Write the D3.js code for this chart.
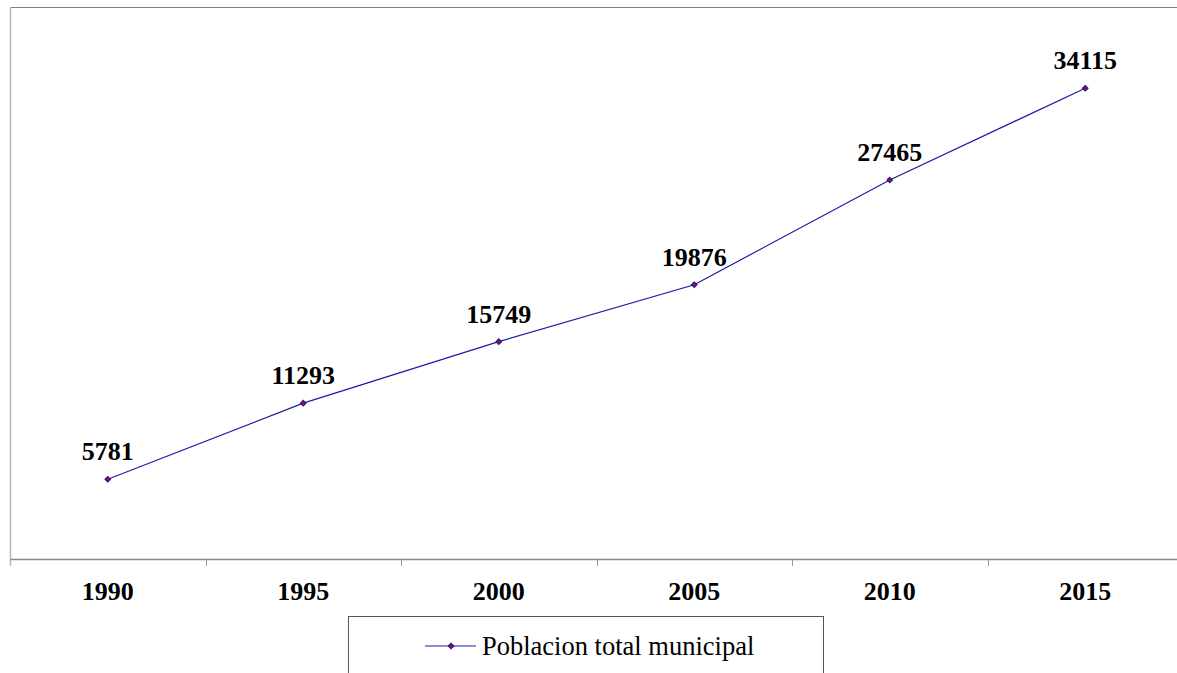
<!DOCTYPE html>
<html><head><meta charset="utf-8">
<script src="https://cdn.jsdelivr.net/npm/d3@7"></script>
<style>html,body{margin:0;padding:0;background:#fff;overflow:hidden}
text{font-family:'Liberation Serif','Times New Roman',serif}</style>
</head><body>
<svg id="c" width="1177" height="673"></svg>
<script>
const years = ["1990","1995","2000","2005","2010","2015"];
const poblacion = [5781, 11293, 15749, 19876, 27465, 34115];
const seriesName = "Poblacion total municipal";

const svg = d3.select("#c");
const mLeft = 10, mTop = 7, mBottom = 559, step = 195.5;
const x = d3.scaleBand().domain(years).range([mLeft, mLeft + step * years.length]).padding(0);
const y = d3.scaleLinear().domain([0, 40000]).range([mBottom, mTop]);
const cx = d => x(d) + x.bandwidth() / 2;

// plot area border (top) and left axis
svg.append("line").attr("x1", mLeft).attr("x2", 1177).attr("y1", mTop + 0.5).attr("y2", mTop + 0.5)
  .attr("stroke", "#808080").attr("stroke-width", 1.2);
svg.append("line").attr("x1", mLeft + 0.5).attr("x2", mLeft + 0.5).attr("y1", mTop).attr("y2", mBottom + 7)
  .attr("stroke", "#b8b8b8").attr("stroke-width", 1.5);

// x axis
const xAxis = d3.axisBottom(x).tickSize(0).tickPadding(0);
const gx = svg.append("g").attr("transform", `translate(0,${mBottom})`).call(xAxis);
gx.select(".domain").attr("stroke", "#888").attr("stroke-width", 1.5);
gx.selectAll(".tick text").attr("dy", null).attr("y", 41)
  .attr("font-family", null).attr("font-weight", "bold")
  .attr("font-size", 26).attr("fill", "#000");
// tick marks at band boundaries
svg.append("g").selectAll("line").data(years.slice(1)).join("line")
  .attr("x1", d => Math.round(x(d)) + 0.5).attr("x2", d => Math.round(x(d)) + 0.5)
  .attr("y1", mBottom).attr("y2", mBottom + 7).attr("stroke", "#999").attr("stroke-width", 1);

// line
const data = years.map((yr, i) => ({ yr, v: poblacion[i] }));
svg.append("path").datum(data)
  .attr("d", d3.line().x(d => cx(d.yr)).y(d => y(d.v)))
  .attr("fill", "none").attr("stroke", "#1c1ca8").attr("stroke-width", 1.2);

// markers (square rotated 45deg)
const diamond = d3.symbol().type(d3.symbolSquare).size(14);
svg.append("g").selectAll("path").data(data).join("path")
  .attr("d", diamond).attr("transform", d => `translate(${cx(d.yr)},${y(d.v)}) rotate(45)`)
  .attr("fill", "#d00020").attr("stroke", "#1c1c90").attr("stroke-width", 1.3);

// labels
svg.append("g").selectAll("text").data(data).join("text")
  .attr("x", d => cx(d.yr)).attr("y", d => y(d.v) - 19)
  .attr("text-anchor", "middle")
  .attr("font-weight", "bold")
  .attr("font-size", 26).attr("fill", "#000").text(d => d.v);

// legend
const lg = svg.append("g");
lg.append("rect").attr("x", 348.5).attr("y", 616.5).attr("width", 475).attr("height", 70)
  .attr("fill", "#fff").attr("stroke", "#555").attr("stroke-width", 1);
lg.append("line").attr("x1", 425).attr("x2", 476).attr("y1", 646).attr("y2", 646)
  .attr("stroke", "#1c1ca8").attr("stroke-width", 1.2);
lg.append("path").attr("d", diamond).attr("transform", "translate(451,646) rotate(45)")
  .attr("fill", "#d00020").attr("stroke", "#1c1c90").attr("stroke-width", 1.3);
lg.append("text").attr("x", 482).attr("y", 655)
  .attr("font-size", 26.5)
  .attr("fill", "#000").text(seriesName);
</script>
</body></html>
